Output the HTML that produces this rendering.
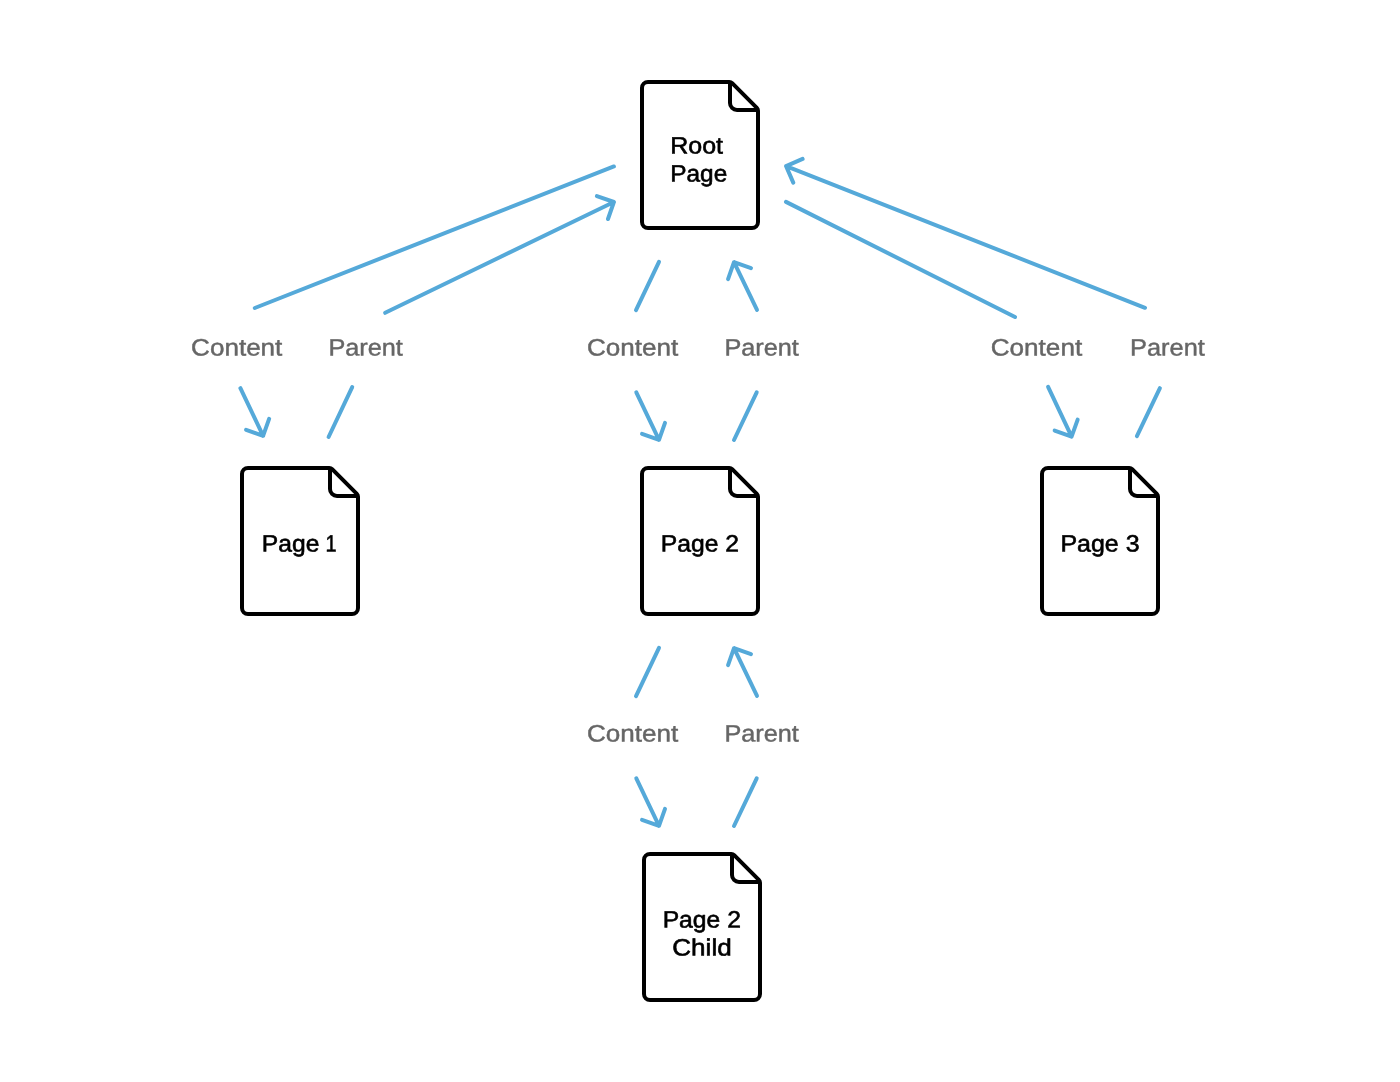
<!DOCTYPE html>
<html lang="en">
<head>
<meta charset="utf-8">
<title>Diagram</title>
<style>
html,body{margin:0;padding:0;background:#fff;}
body{width:1400px;height:1082px;overflow:hidden;}
svg{display:block;will-change:transform;}
text{font-family:"Liberation Sans",sans-serif;text-rendering:geometricPrecision;stroke-linejoin:round;}
.dt{font-size:23.6px;fill:#000;stroke:#000;stroke-width:0.6px;}
.lb{font-size:23.8px;fill:#666666;stroke:#666666;stroke-width:0.45px;}
.dc{fill:#fff;stroke:#000;stroke-width:4;stroke-linejoin:round;}
.fd{fill:none;stroke:#000;stroke-width:4;stroke-linejoin:round;stroke-linecap:butt;}
.ln{fill:none;stroke:#55a9d9;stroke-width:4;stroke-linecap:round;stroke-linejoin:round;}
</style>
</head>
<body>
<svg width="1400" height="1082" viewBox="0 0 1400 1082">
<rect width="1400" height="1082" fill="#fff"/>
<path d="M648,82 H729.34 A4,4 0 0 1 732.17,83.17 L756.83,107.83 A4,4 0 0 1 758.00,110.66 V222 A6,6 0 0 1 752,228 H648 A6,6 0 0 1 642,222 V88 A6,6 0 0 1 648,82 Z" class="dc"/>
<path d="M730,83 V103 A7,7 0 0 0 737,110 H757" class="fd"/>
<text y="153.50" class="dt" transform="rotate(0.05 697.5 153.50)"><tspan x="670.24" textLength="52.74" lengthAdjust="spacingAndGlyphs">Root</tspan></text>
<text y="181.50" class="dt" transform="rotate(0.05 699.2 181.50)"><tspan x="670.29" textLength="56.96" lengthAdjust="spacingAndGlyphs">Page</tspan></text>
<path d="M248,468 H329.34 A4,4 0 0 1 332.17,469.17 L356.83,493.83 A4,4 0 0 1 358.00,496.66 V608 A6,6 0 0 1 352,614 H248 A6,6 0 0 1 242,608 V474 A6,6 0 0 1 248,468 Z" class="dc"/>
<path d="M330,469 V489 A7,7 0 0 0 337,496 H357" class="fd"/>
<text y="551.50" class="dt" transform="rotate(0.05 299.8 551.50)"><tspan x="261.87" textLength="64.33" lengthAdjust="spacingAndGlyphs">Page </tspan><tspan x="325.61" textLength="11.06" lengthAdjust="spacingAndGlyphs">1</tspan></text>
<path d="M648,468 H729.34 A4,4 0 0 1 732.17,469.17 L756.83,493.83 A4,4 0 0 1 758.00,496.66 V608 A6,6 0 0 1 752,614 H648 A6,6 0 0 1 642,608 V474 A6,6 0 0 1 648,468 Z" class="dc"/>
<path d="M730,469 V489 A7,7 0 0 0 737,496 H757" class="fd"/>
<text y="551.50" class="dt" transform="rotate(0.05 700.2 551.50)"><tspan x="660.76" textLength="78.22" lengthAdjust="spacingAndGlyphs">Page 2</tspan></text>
<path d="M1048,468 H1129.34 A4,4 0 0 1 1132.17,469.17 L1156.83,493.83 A4,4 0 0 1 1158.00,496.66 V608 A6,6 0 0 1 1152,614 H1048 A6,6 0 0 1 1042,608 V474 A6,6 0 0 1 1048,468 Z" class="dc"/>
<path d="M1130,469 V489 A7,7 0 0 0 1137,496 H1157" class="fd"/>
<text y="551.50" class="dt" transform="rotate(0.05 1100.5 551.50)"><tspan x="1060.44" textLength="79.07" lengthAdjust="spacingAndGlyphs">Page 3</tspan></text>
<path d="M650,854 H731.34 A4,4 0 0 1 734.17,855.17 L758.83,879.83 A4,4 0 0 1 760.00,882.66 V994 A6,6 0 0 1 754,1000 H650 A6,6 0 0 1 644,994 V860 A6,6 0 0 1 650,854 Z" class="dc"/>
<path d="M732,855 V875 A7,7 0 0 0 739,882 H759" class="fd"/>
<text y="927.50" class="dt" transform="rotate(0.05 702.1 927.50)"><tspan x="662.66" textLength="78.22" lengthAdjust="spacingAndGlyphs">Page 2</tspan></text>
<text y="955.50" class="dt" transform="rotate(0.05 701.8 955.50)"><tspan x="672.30" textLength="59.37" lengthAdjust="spacingAndGlyphs">Child</tspan></text>
<path d="M254.8,308 L613.9,166.45" class="ln"/>
<path d="M385.2,312.8 L613.9,202 M607.99,219.00 L613.9,202 L596.90,196.09" class="ln"/>
<path d="M240.4,388.2 L263.1,435.8 M246.13,429.79 L263.1,435.8 L269.11,418.83" class="ln"/>
<path d="M352.2,387.1 L328.6,437.0" class="ln"/>
<path d="M659,261.8 L636,310.1" class="ln"/>
<path d="M757,309.9 L734,262.2 M750.99,268.14 L734,262.2 L728.06,279.19" class="ln"/>
<path d="M636.3,392.3 L659,439.8 M642.03,433.80 L659,439.8 L665.00,422.83" class="ln"/>
<path d="M756.7,392.3 L734,440" class="ln"/>
<path d="M659,647.8 L636,696.1" class="ln"/>
<path d="M757,695.9 L734,648.2 M750.99,654.14 L734,648.2 L728.06,665.19" class="ln"/>
<path d="M636.3,778.3 L659,825.8 M642.03,819.80 L659,825.8 L665.00,808.83" class="ln"/>
<path d="M756.7,778.3 L734,826" class="ln"/>
<path d="M786.0,201.9 L1015,317" class="ln"/>
<path d="M1145,307.8 L786.1,166.1 M802.61,158.94 L786.1,166.1 L793.26,182.61" class="ln"/>
<path d="M1048.1,386.9 L1071.6,436.6 M1054.65,430.53 L1071.6,436.6 L1077.67,419.65" class="ln"/>
<path d="M1159.9,388.2 L1136.9,436.2" class="ln"/>
<text y="355.57" class="lb" transform="rotate(0.05 237.3 355.57)"><tspan x="191.12" textLength="91.25" lengthAdjust="spacingAndGlyphs">Content</tspan></text>
<text y="355.57" class="lb" transform="rotate(0.05 366.6 355.57)"><tspan x="328.44" textLength="74.35" lengthAdjust="spacingAndGlyphs">Parent</tspan></text>
<text y="355.57" class="lb" transform="rotate(0.05 633.1 355.57)"><tspan x="586.92" textLength="91.25" lengthAdjust="spacingAndGlyphs">Content</tspan></text>
<text y="355.57" class="lb" transform="rotate(0.05 762.5 355.57)"><tspan x="724.44" textLength="74.35" lengthAdjust="spacingAndGlyphs">Parent</tspan></text>
<text y="355.57" class="lb" transform="rotate(0.05 1037.0 355.57)"><tspan x="990.72" textLength="91.45" lengthAdjust="spacingAndGlyphs">Content</tspan></text>
<text y="355.57" class="lb" transform="rotate(0.05 1168.4 355.57)"><tspan x="1130.13" textLength="74.66" lengthAdjust="spacingAndGlyphs">Parent</tspan></text>
<text y="741.57" class="lb" transform="rotate(0.05 633.1 741.57)"><tspan x="586.92" textLength="91.25" lengthAdjust="spacingAndGlyphs">Content</tspan></text>
<text y="741.57" class="lb" transform="rotate(0.05 762.5 741.57)"><tspan x="724.44" textLength="74.35" lengthAdjust="spacingAndGlyphs">Parent</tspan></text>
</svg>
</body>
</html>
